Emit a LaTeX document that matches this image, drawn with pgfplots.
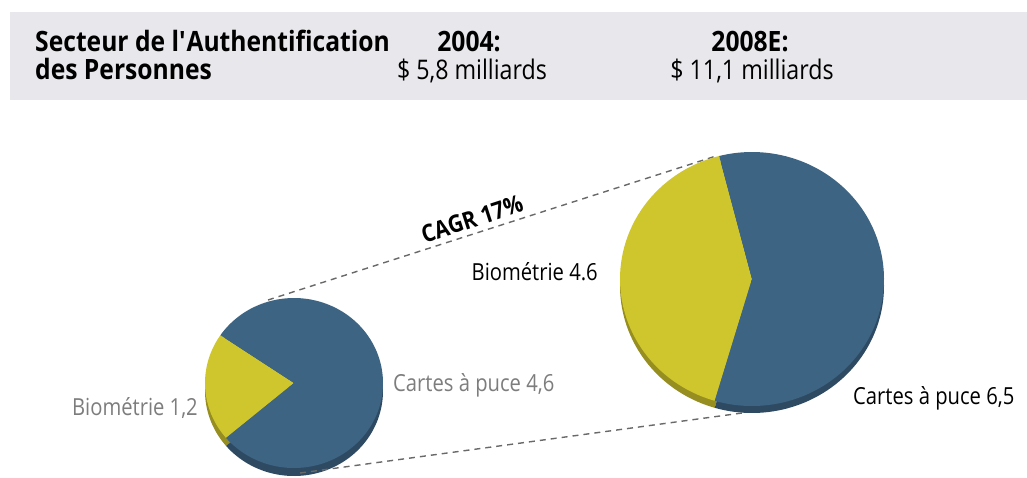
\documentclass[border=0pt]{standalone}
\usepackage{fontspec}
\setmainfont{Open Sans}[FakeStretch=0.86,BoldFeatures={FakeStretch=0.88}]
\usepackage{pgfplots}
\pgfplotsset{compat=1.18}
\definecolor{pieblue}{RGB}{61,100,130}
\definecolor{piebluedark}{RGB}{45,74,98}
\definecolor{pieyellow}{RGB}{207,197,44}
\definecolor{pieyellowdark}{RGB}{150,142,32}
\definecolor{headgray}{RGB}{232,232,236}
\definecolor{labgray}{RGB}{125,125,125}
\definecolor{dashgray}{RGB}{105,105,105}
% data (milliards $)
\def\bioA{1.2}\def\carA{4.6}
\def\bioB{4.6}\def\carB{6.5}
\pgfmathsetmacro\spanA{360*\bioA/(\bioA+\carA)}
\pgfmathsetmacro\sYA{183-\spanA/2}
\pgfmathsetmacro\eYA{183+\spanA/2}
\pgfmathsetmacro\eBA{\sYA+360}
\pgfmathsetmacro\spanB{360*\bioB/(\bioB+\carB)}
\pgfmathsetmacro\sYB{179-\spanB/2}
\pgfmathsetmacro\eYB{179+\spanB/2}
\pgfmathsetmacro\eBB{\sYB+360}
\begin{document}
\begin{tikzpicture}
\begin{axis}[width=1027pt,height=477pt,scale only axis,
  xmin=0,xmax=1027,ymin=0,ymax=477,y dir=reverse,hide axis,clip=false]
\path (axis cs:0,0) rectangle (axis cs:1027,477);
\fill[headgray] (axis cs:10,12) rectangle (axis cs:1027,100);
\node[anchor=base west,font=\bfseries\fontsize{28}{32}\selectfont,inner sep=0pt] at (axis cs:35,51) {Secteur de l\textquotesingle Authentification};
\node[anchor=base west,font=\bfseries\fontsize{28}{32}\selectfont,inner sep=0pt] at (axis cs:35,79) {des Personnes};
\node[anchor=base,font=\bfseries\fontsize{28}{32}\selectfont,inner sep=0pt] at (axis cs:469,51) {2004:};
\node[anchor=base,font=\fontsize{27}{31}\selectfont,inner sep=0pt] at (axis cs:472,79) {\$ 5,8 milliards};
\node[anchor=base,font=\bfseries\fontsize{28}{32}\selectfont,inner sep=0pt] at (axis cs:750,51) {2008E:};
\node[anchor=base,font=\fontsize{27}{31}\selectfont,inner sep=0pt] at (axis cs:752,79) {\$ 11,1 milliards};
% dashed connectors
\addplot[dashgray,line width=1.4pt,dash pattern=on 6pt off 5pt] coordinates {(268,300) (716,156)};
% small pie (2004) shadow
\addplot[fill=pieyellowdark,draw=none,domain=\sYA:\eYA,samples=40] ({294+89*cos(x)},{391-85*sin(x)}) -- (axis cs:294,391) -- cycle;
\addplot[fill=piebluedark,draw=none,domain=\eYA:\eBA,samples=120] ({294+89*cos(x)},{391-85*sin(x)}) -- (axis cs:294,391) -- cycle;
% small pie face
\addplot[fill=pieyellow,draw=none,domain=\sYA:\eYA,samples=40] ({294+89*cos(x)},{383-85*sin(x)}) -- (axis cs:294,383) -- cycle;
\addplot[fill=pieblue,draw=none,domain=\eYA:\eBA,samples=120] ({294+89*cos(x)},{383-85*sin(x)}) -- (axis cs:294,383) -- cycle;
% big pie (2008E) shadow
\addplot[fill=pieyellowdark,draw=none,domain=\sYB:\eYB,samples=60] ({752+132*cos(x)},{286-127*sin(x)}) -- (axis cs:752,286) -- cycle;
\addplot[fill=piebluedark,draw=none,domain=\eYB:\eBB,samples=100] ({752+132*cos(x)},{286-127*sin(x)}) -- (axis cs:752,286) -- cycle;
% big pie face
\addplot[fill=pieyellow,draw=none,domain=\sYB:\eYB,samples=60] ({752+132*cos(x)},{279-127*sin(x)}) -- (axis cs:752,279) -- cycle;
\addplot[fill=pieblue,draw=none,domain=\eYB:\eBB,samples=100] ({752+132*cos(x)},{279-127*sin(x)}) -- (axis cs:752,279) -- cycle;
\addplot[dashgray,line width=1.4pt,dash pattern=on 6pt off 5pt] coordinates {(300,473) (742,413)};
% labels
\node[rotate=18,font=\bfseries\fontsize{24}{28}\selectfont,inner sep=1pt] at (axis cs:472,219) {CAGR 17\%};
\node[anchor=east,font=\fontsize{23.5}{27}\selectfont,inner sep=0pt] at (axis cs:598,272) {Biométrie 4.6};
\node[anchor=west,text=labgray,font=\fontsize{23.5}{27}\selectfont,inner sep=0pt] at (axis cs:393,385) {Cartes à puce 4,6};
\node[anchor=east,text=labgray,font=\fontsize{23.5}{27}\selectfont,inner sep=0pt] at (axis cs:198,408) {Biométrie 1,2};
\node[anchor=west,font=\fontsize{23.5}{27}\selectfont,inner sep=0pt] at (axis cs:853,398) {Cartes à puce 6,5};
\end{axis}
\end{tikzpicture}
\end{document}
